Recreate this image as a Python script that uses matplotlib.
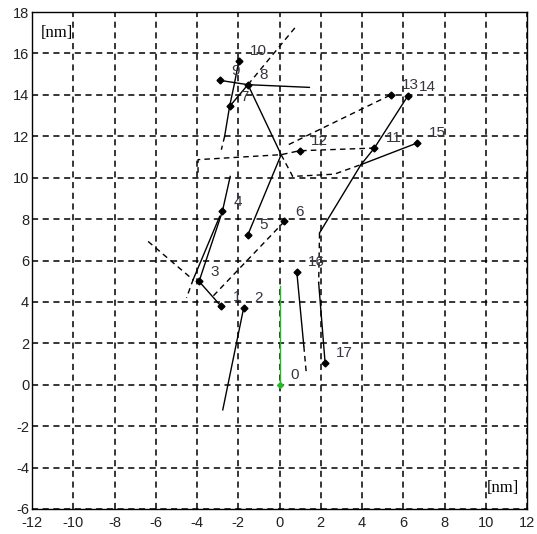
import matplotlib.pyplot as plt
import numpy as np

# numbered points (diamonds), 1..17
pt_num = list(range(1, 18))
pt_x = [-2.82, -1.74, -3.90, -2.77, -1.53, 0.24, -2.42, -1.53, -2.90, -1.97,
        4.60, 0.97, 5.40, 6.21, 6.69, 0.84, 2.21]
pt_y = [3.78, 3.70, 4.99, 8.37, 7.25, 7.89, 13.44, 14.49, 14.70, 15.65,
        11.43, 11.30, 14.00, 13.93, 11.68, 5.44, 1.07]

# start point 0 and its green track
start_x = [0.0, 0.0]
start_y = [0.0, 4.75]

# solid tracks
solid_tracks = [
    [(-2.75, -1.21), (-1.74, 3.70)],
    [(-2.82, 3.78), (-3.90, 4.99), (-2.77, 8.37), (-2.39, 10.06)],
    [(-4.19, 5.07), (-2.90, 8.13)],
    [(-2.66, 12.00), (-2.42, 13.44), (-2.18, 14.57), (-1.97, 15.65)],
    [(-2.42, 13.44), (-1.53, 14.49)],
    [(-2.90, 14.70), (-1.53, 14.49), (1.45, 14.36)],
    [(-1.53, 14.49), (0.08, 11.11), (-1.53, 7.25)],
    [(1.94, 7.33), (3.95, 10.63), (4.60, 11.43), (6.21, 13.93)],
    [(3.95, 10.63), (6.69, 11.68)],
    [(0.84, 5.44), (1.18, 1.86)],
    [(1.90, 4.91), (2.21, 1.07)],
]

# dashed tracks
dashed_tracks = [
    [(0.24, 7.89), (-3.23, 4.27)],
    [(-6.37, 6.92), (-4.19, 5.07), (-4.51, 4.19)],
    [(-2.66, 12.00), (-2.82, 11.35)],
    [(-3.95, 10.24), (-3.95, 10.87), (0.08, 11.11), (0.97, 11.30), (4.60, 11.43)],
    [(0.45, 11.60), (5.40, 14.00)],
    [(0.08, 11.11), (0.64, 10.06), (2.66, 10.17), (3.95, 10.63)],
    [(-1.53, 14.49), (0.80, 17.30)],
    [(1.94, 7.33), (1.90, 4.91)],
    [(1.18, 1.86), (1.30, 0.56)],
]

x_ticks = list(range(-12, 13, 2))
y_ticks = list(range(-6, 19, 2))

plt.rcParams['font.family'] = ['Liberation Sans', 'DejaVu Sans']
plt.rcParams['axes.unicode_minus'] = False

fig = plt.figure(figsize=(5.37, 5.34), dpi=100)
ax = fig.add_axes([32 / 537, 25 / 534, 495 / 537, 497 / 534])

for tr in solid_tracks:
    xs, ys = zip(*tr)
    ax.plot(xs, ys, color='black', lw=1.0, zorder=3)
for tr in dashed_tracks:
    xs, ys = zip(*tr)
    ax.plot(xs, ys, color='black', lw=1.0, ls=(0, (4, 3)), zorder=3)

ax.plot(start_x, start_y, color='#22bb22', lw=1.0, zorder=3)
ax.plot(start_x[0], start_y[0], marker='D', ms=3, color='#22bb22', zorder=4)
ax.annotate('0', (start_x[0], start_y[0]), xytext=(8, 7), textcoords='offset points',
            fontsize=11, color='#3a3340', va='center', ha='left')

ax.plot(pt_x, pt_y, ls='none', marker='D', ms=3.5, color='black', zorder=4)
for n, x, y in zip(pt_num, pt_x, pt_y):
    ax.annotate(str(n), (x, y), xytext=(8, 7), textcoords='offset points',
                fontsize=11, color='#3a3340', va='center', ha='left')

ax.set_xlim(-12, 12)
ax.set_ylim(-6, 18)
ax.set_xticks(x_ticks)
ax.set_yticks(y_ticks)
ax.grid(True, color='black', lw=1.1, ls=(0, (4, 3)))
ax.tick_params(length=0, labelsize=10.5, labelcolor='#222222', pad=2)
ax.tick_params(axis='x', pad=5)
for s in ax.spines.values():
    s.set_linewidth(1.0)

ax.text(-11.6, 17.0, '[nm]', family='Liberation Serif', fontsize=12, va='center', ha='left')
ax.text(11.6, -5.0, '[nm]', family='Liberation Serif', fontsize=12, va='center', ha='right')

fig.savefig('out.png', dpi=100)
